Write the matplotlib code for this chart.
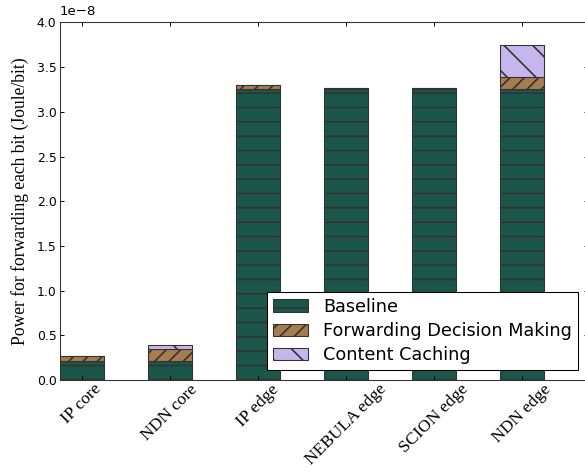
import numpy as np
import matplotlib
matplotlib.use("Agg")
import matplotlib.pyplot as plt

## values (units of 1e-8 Joule/bit)
categories = ["IP core", "NDN core", "IP edge", "NEBULA edge", "SCION edge", "NDN edge"]
baseline = [0.215, 0.215, 3.26, 3.26, 3.26, 3.26]
forwarding = [0.05, 0.135, 0.045, 0.012, 0.012, 0.135]
caching = [0.0, 0.045, 0.0, 0.0, 0.0, 0.355]

DPI = 172
plt.rcParams["hatch.linewidth"] = 0.7
plt.rcParams["hatch.color"] = "black"

fig = plt.figure(figsize=(585/DPI, 472/DPI), dpi=DPI)
ax = fig.add_axes([60/585, 92/472, 528/585, 357.5/472])

x = np.arange(len(categories))
base = np.array(baseline)*1e-8
fwd = np.array(forwarding)*1e-8
cache = np.array(caching)*1e-8

# hatch density picked so the line spacing matches the reference
ax.bar(x, base, 0.5, align="edge", color="#1b564a", edgecolor="#333333", linewidth=0.45, hatch="--", label="Baseline")
ax.bar(x, fwd, 0.5, bottom=base, align="edge", color="#a87c4e", edgecolor="#333333", linewidth=0.45, hatch="////", label="Forwarding Decision Making")
ax.bar(x, cache, 0.5, bottom=base+fwd, align="edge", color="#c6b6ee", edgecolor="#333333", linewidth=0.45, hatch="\\\\", label="Content Caching")

ax.set_xlim(0, 6)
ax.set_ylim(0, 4e-8)
ax.set_xticks(x + 0.25)
ax.set_xticklabels(categories, rotation=45, family="Liberation Serif", fontsize=7.3)
ax.set_yticks(np.arange(0, 4.01, 0.5)*1e-8)
ax.tick_params(direction="in", top=True, right=True, length=1.7, width=0.4, pad=1.5)
ax.tick_params(axis="x", pad=0.5)
ax.tick_params(axis="y", labelsize=5.2)
ax.yaxis.get_offset_text().set_fontsize(5.6)
for s in ax.spines.values():
    s.set_linewidth(0.45)
    s.set_color("#333333")

ax.set_ylabel("Power for forwarding each bit (Joule/bit)", family="Liberation Serif", fontsize=7.35, labelpad=3)

leg = ax.legend(loc="lower right", fontsize=7.4, handlelength=2.0, handleheight=0.7,
                handletextpad=0.85, borderpad=0.35, labelspacing=0.35,
                fancybox=False, edgecolor="black", framealpha=1, borderaxespad=0.55)
leg.get_frame().set_linewidth(0.45)

fig.savefig("out.png", dpi=DPI)
